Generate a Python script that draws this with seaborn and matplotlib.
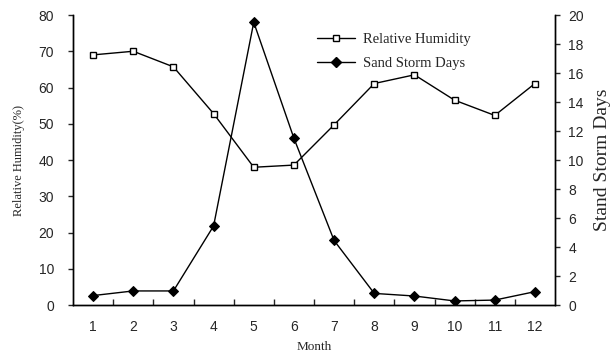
import matplotlib
matplotlib.use("Agg")
import matplotlib.pyplot as plt
import seaborn as sns
import pandas as pd
from matplotlib.ticker import FixedLocator
from matplotlib.lines import Line2D

months = [1, 2, 3, 4, 5, 6, 7, 8, 9, 10, 11, 12]
humidity = [69.0, 70.0, 65.7, 52.8, 38.0, 38.6, 49.7, 61.1, 63.5, 56.5, 52.3, 61.1]
storm_days = [0.65, 0.97, 0.97, 5.45, 19.5, 11.5, 4.45, 0.8, 0.62, 0.28, 0.34, 0.92]

df = pd.DataFrame({"Month": months, "Humidity": humidity, "Storm": storm_days})

sns.set_style("white")
plt.rcParams['font.family'] = ['Liberation Sans', 'DejaVu Sans']

fig = plt.figure(figsize=(6.16, 3.54), dpi=100)
ax = fig.add_axes([0.1185, 0.1384, 0.7825, 0.8192])
ax2 = ax.twinx()

sns.lineplot(data=df, x="Month", y="Humidity", ax=ax, color="black", lw=1,
             marker="s", markersize=4.8, markerfacecolor="white",
             markeredgecolor="black", markeredgewidth=1)
sns.lineplot(data=df, x="Month", y="Storm", ax=ax2, color="black", lw=1,
             marker="D", markersize=5.5, markerfacecolor="black",
             markeredgecolor="black")

ax.set_xlim(0.5, 12.5)
ax.set_ylim(0, 80)
ax2.set_ylim(0, 20)
ax.set_yticks(range(0, 81, 10))
ax2.set_yticks(range(0, 21, 2))
ax.set_xticks(months)
ax.xaxis.set_minor_locator(FixedLocator([m + 0.5 for m in months[:-1]]))

for a in (ax, ax2):
    a.spines['top'].set_visible(False)
    for s in a.spines.values():
        s.set_linewidth(1)
        s.set_color("black")

ax.tick_params(axis='x', which='major', length=0, pad=11, labelsize=10)
ax.tick_params(axis='x', which='minor', direction='in', length=4, width=1, bottom=True)
ax.tick_params(axis='y', direction='out', length=3.6, width=1, labelsize=10, left=True, pad=10)
ax2.tick_params(axis='y', direction='out', length=3.6, width=1, labelsize=10, right=True, pad=6)

serif = ['Liberation Serif', 'DejaVu Serif']
ax.set_xlabel("Month", family=serif, fontsize=9.5, labelpad=5)
ax.set_ylabel("Relative Humidity(%)", family=serif, fontsize=9, labelpad=10)
ax2.set_ylabel("Stand Storm Days", family=serif, fontsize=14, labelpad=7)

handles = [
    Line2D([], [], color="black", lw=1, marker="s", markersize=4.5,
           markerfacecolor="white", markeredgecolor="black"),
    Line2D([], [], color="black", lw=1, marker="D", markersize=5,
           markerfacecolor="black", markeredgecolor="black"),
]
ax.legend(handles, ["Relative Humidity", "Sand Storm Days"], loc="upper left",
          bbox_to_anchor=(0.48, 0.985), frameon=False,
          prop={'family': serif, 'size': 10.5}, handlelength=2.6,
          handletextpad=0.5, labelspacing=0.75)

fig.savefig("out.png", dpi=100)
